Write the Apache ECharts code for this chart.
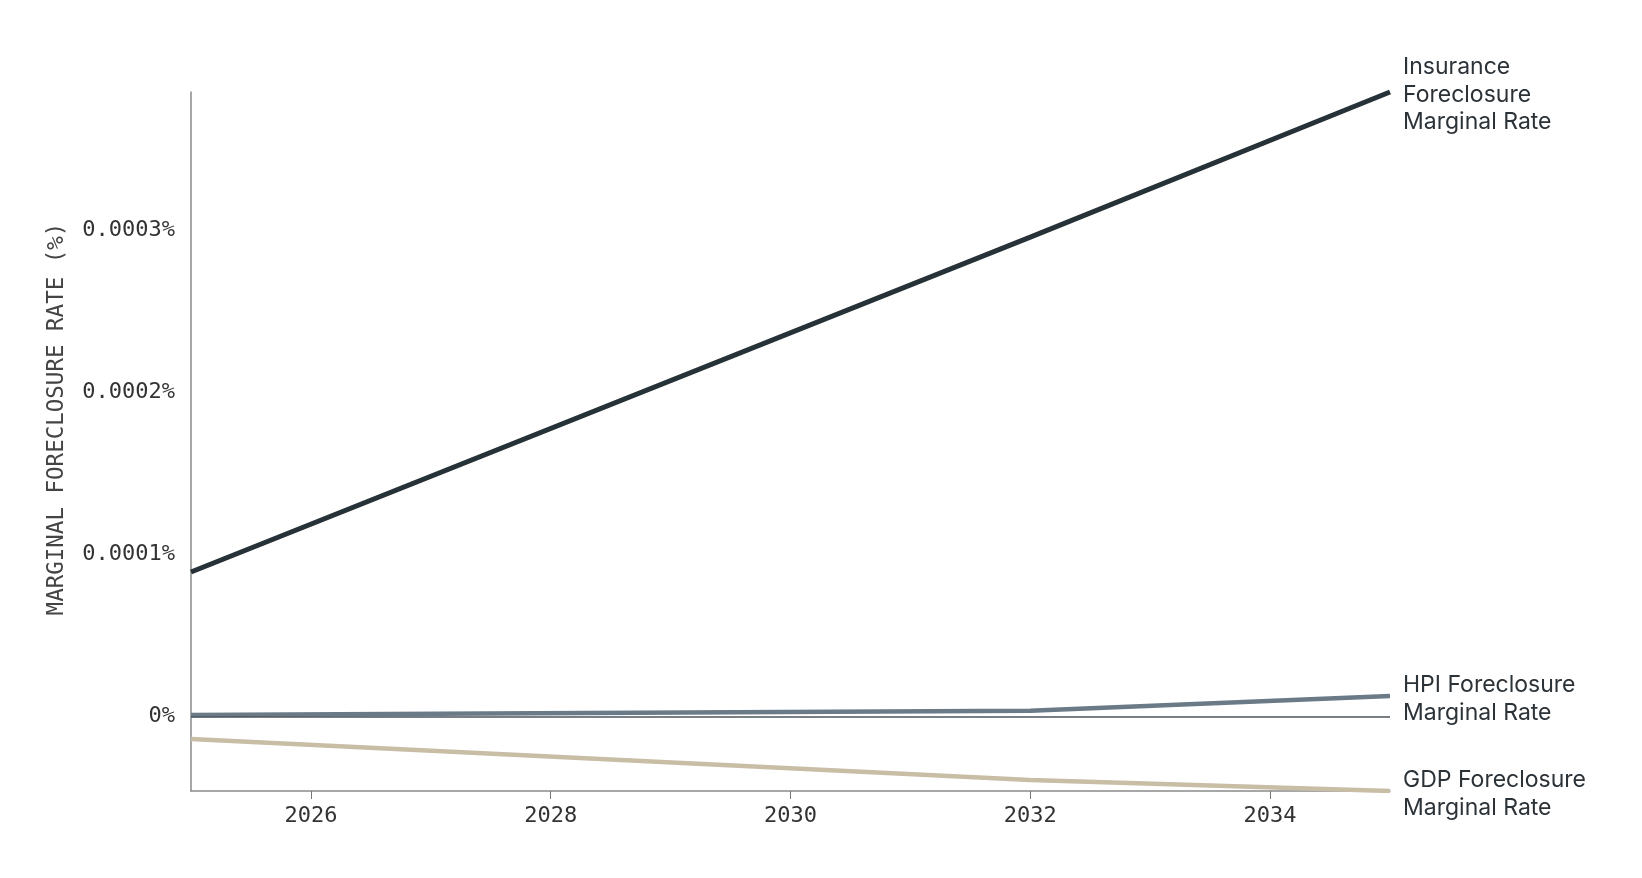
<!DOCTYPE html>
<html>
<head>
<meta charset="utf-8">
<script src="https://cdn.jsdelivr.net/npm/echarts@6/dist/echarts.min.js"></script>
<style>
  html, body { margin: 0; padding: 0; background: #ffffff; }
  #chart { width: 1642px; height: 878px; }
</style>
</head>
<body>
<div id="chart"></div>
<script>
// Data (values in percent units)
const years = [2025, 2032, 2035];
const insuranceValues = [0.0000893, 0.000296, 0.0003856];
const hpiValues = [0.0000010, 0.0000037, 0.0000128];
const gdpValues = [-0.0000138, -0.0000391, -0.0000459];
const seriesNames = ['Insurance\nForeclosure\nMarginal Rate', 'HPI Foreclosure\nMarginal Rate', 'GDP Foreclosure\nMarginal Rate'];
const xTickLabels = [2026, 2028, 2030, 2032, 2034];
const yTickValues = [0, 0.0001, 0.0002, 0.0003];
const yAxisTitle = 'MARGINAL FORECLOSURE RATE (%)';

const monoFont = '"DejaVu Sans Mono", "Liberation Mono", monospace';
const sansFont = 'Inter, "Noto Sans", sans-serif';

function pairs(xs, ys) { return xs.map((x, i) => [x, ys[i]]); }

const endLabel = () => ({
  show: true,
  formatter: (p) => p.seriesName,
  distance: 13,
  offset: [0, 3],
  color: '#2b3238',
  fontFamily: sansFont,
  fontSize: 23,
  lineHeight: 27.5,
  align: 'left',
  verticalAlign: 'middle'
});

const chart = echarts.init(document.getElementById('chart'), null, { renderer: 'canvas' });
chart.setOption({
  animation: false,
  backgroundColor: '#ffffff',
  grid: { left: 191, right: 252, top: 92, bottom: 87, containLabel: false },
  xAxis: {
    type: 'value',
    min: 2025,
    max: 2035,
    axisLine: { show: true, onZero: false, lineStyle: { color: '#8a8a8a', width: 1.5 } },
    axisTick: { show: true, length: 8, customValues: xTickLabels, lineStyle: { color: '#777', width: 1 } },
    axisLabel: {
      customValues: xTickLabels,
      formatter: (v) => String(v),
      color: '#333333',
      fontFamily: monoFont,
      fontSize: 22,
      margin: 14
    },
    splitLine: { show: false }
  },
  yAxis: {
    type: 'value',
    min: 'dataMin',
    max: 'dataMax',
    axisLine: { show: true, lineStyle: { color: '#8a8a8a', width: 1.5 } },
    axisTick: { show: false },
    axisLabel: {
      customValues: yTickValues,
      formatter: (v) => (v === 0 ? '0' : String(Number(v.toFixed(6)))) + '%',
      color: '#333333',
      fontFamily: monoFont,
      fontSize: 22,
      margin: 16,
      padding: [12, 0, 0, 0]
    },
    splitLine: { show: false }
  },
  graphic: [{
    type: 'text',
    rotation: Math.PI / 2,
    x: 57,
    y: 419,
    style: {
      text: yAxisTitle,
      fill: '#444444',
      font: '22.5px ' + monoFont,
      align: 'center',
      verticalAlign: 'middle'
    }
  }],
  series: [
    {
      name: seriesNames[2],
      type: 'line',
      data: pairs(years, gdpValues),
      showSymbol: false,
      lineStyle: { color: '#c8bea6', width: 4.5 },
      itemStyle: { color: '#c8bea6' },
      endLabel: endLabel(),
      z: 2,
      markLine: {
        silent: true,
        symbol: ['none', 'none'],
        label: { show: false },
        lineStyle: { color: '#4b555d', width: 1.5, type: 'solid' },
        data: [{ yAxis: 0 }]
      }
    },
    {
      name: seriesNames[1],
      type: 'line',
      data: pairs(years, hpiValues),
      showSymbol: false,
      lineStyle: { color: '#6b7a87', width: 4.5 },
      itemStyle: { color: '#6b7a87' },
      endLabel: endLabel(),
      z: 3
    },
    {
      name: seriesNames[0],
      type: 'line',
      data: pairs(years, insuranceValues),
      showSymbol: false,
      lineStyle: { color: '#263238', width: 5 },
      itemStyle: { color: '#263238' },
      endLabel: endLabel(),
      z: 4
    }
  ]
});
</script>
</body>
</html>
